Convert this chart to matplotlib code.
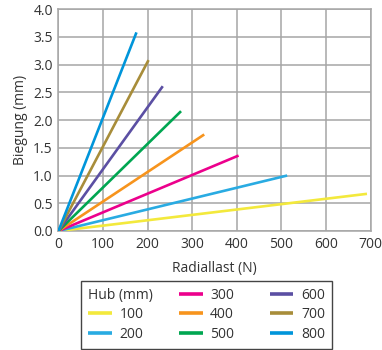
import matplotlib
matplotlib.use("Agg")
import matplotlib.pyplot as plt

# Hub (mm) -> end point of each straight line (starts at origin)
hub = [100, 200, 300, 400, 500, 600, 700, 800]
last_end = [692, 513, 404, 327, 275, 234, 202, 175]
bieg_end = [0.67, 1.00, 1.36, 1.74, 2.16, 2.61, 3.08, 3.58]
farben = ['#f3e93c', '#29abe2', '#ec008c', '#f7941d',
          '#00a651', '#5b4fa3', '#a88d3a', '#0095da']

xticks = [0, 100, 200, 300, 400, 500, 600, 700]
yticks = [0.0, 0.5, 1.0, 1.5, 2.0, 2.5, 3.0, 3.5, 4.0]

plt.rcParams['font.family'] = ['Open Sans', 'DejaVu Sans']
plt.rcParams['font.size'] = 10
textfarbe = '#333333'
gitter = '#a6a6a6'

fig = plt.figure(figsize=(3.82, 3.5), dpi=100)
ax = fig.add_axes([0.153, 0.34, 0.817, 0.634])

linien = []
for h, xe, ye, c in zip(hub, last_end, bieg_end, farben):
    l, = ax.plot([0, xe], [0, ye], color=c, lw=1.9, solid_capstyle='butt',
                 label=str(h), zorder=3)
    linien.append(l)

ax.set_xlim(0, 700)
ax.set_ylim(0, 4.0)
ax.set_xticks(xticks)
ax.set_yticks(yticks)
ax.set_yticklabels(['%.1f' % v for v in yticks])
ax.grid(True, color=gitter, lw=1.1)
ax.set_axisbelow(True)
for s in ax.spines.values():
    s.set_color(gitter)
    s.set_linewidth(1.1)
ax.tick_params(length=0, pad=4, colors=textfarbe, labelsize=10)
ax.set_xlabel('Radiallast (N)', color=textfarbe, fontsize=10, labelpad=7)
ax.set_ylabel('Biegung (mm)', color=textfarbe, fontsize=10, labelpad=4)

# Legende: erste Spalte beginnt mit dem Titel (Platzhalter-Eintrag)
dummy, = ax.plot([], [], color='none', label=' ')
handles = [dummy] + linien
labels = [' '] + [str(h) for h in hub]
leg = fig.legend(handles, labels, ncol=3, loc='lower left',
                 bbox_to_anchor=(0.213, 0.003), frameon=True, fancybox=False,
                 edgecolor='#444444', framealpha=1, fontsize=10,
                 handlelength=1.7, handletextpad=0.55, columnspacing=2.55,
                 labelspacing=0.34, borderpad=0.5, borderaxespad=0)
leg.get_frame().set_linewidth(1.0)
for t in leg.get_texts():
    t.set_color(textfarbe)
for lh in leg.legend_handles:
    lh.set_linewidth(2.6)

fig.canvas.draw()
r = fig.canvas.get_renderer()
tb = leg.get_texts()[0].get_window_extent(r)
hb = leg.legend_handles[1].get_window_extent(r)
fig.text(hb.x0 / fig.bbox.width, (tb.y0 + tb.y1) / 2 / fig.bbox.height,
         'Hub (mm)', color=textfarbe, fontsize=10, va='center', ha='left',
         zorder=10)

fig.savefig('out.png', dpi=100)
